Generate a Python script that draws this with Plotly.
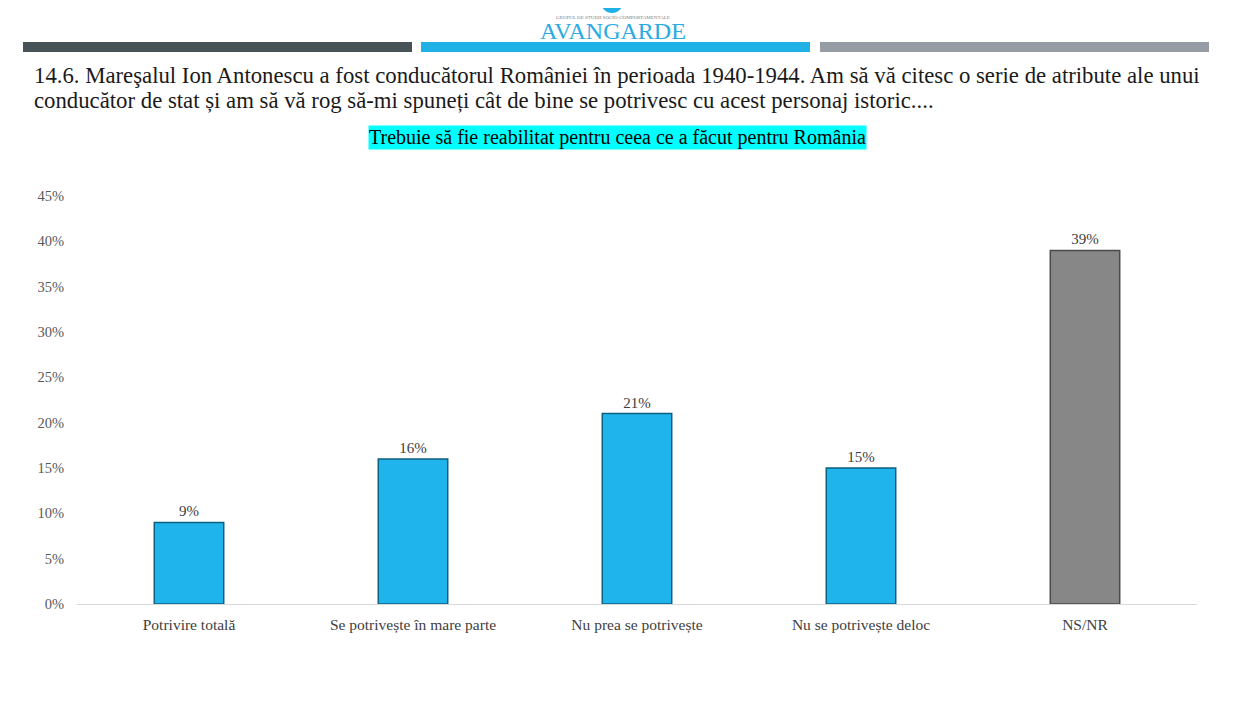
import plotly.graph_objects as go

categories = ["Potrivire totală", "Se potrivește în mare parte", "Nu prea se potrivește",
              "Nu se potrivește deloc", "NS/NR"]
values = [9, 16, 21, 15, 39]
bar_colors = ["#1fb5ec", "#1fb5ec", "#1fb5ec", "#1fb5ec", "#878787"]
line_colors = ["#0d5f80", "#0d5f80", "#0d5f80", "#0d5f80", "#4a4a4a"]
tick_vals = [0, 5, 10, 15, 20, 25, 30, 35, 40, 45]
tick_text = [f"{v}%" for v in tick_vals]
title_lines = [
    "14.6. Mareşalul Ion Antonescu a fost conducătorul României în perioada 1940-1944. "
    "Am să vă citesc o serie de atribute ale unui",
    "conducător de stat și am să vă rog să-mi spuneți cât de bine se potrivesc cu acest "
    "personaj istoric....",
]
subtitle = "Trebuie să fie reabilitat pentru ceea ce a făcut pentru România"

OFF = 8  # page body margin
W, H = 1241 - OFF, 713 - OFF
L, T = 77 - OFF, 196 - OFF
R = W - (1197 - OFF)
B = H - (604 - OFF)
pw, ph = W - L - R, H - T - B

def px(x):
    return (x - OFF - L) / pw

def py(y):
    return (H - B - (y - OFF)) / ph

SERIF = "Liberation Serif, DejaVu Serif, serif"

fig = go.Figure()
fig.add_trace(go.Bar(
    x=categories, y=values,
    marker=dict(color=bar_colors, line=dict(color=line_colors, width=1.5)),
    text=[f"{v}%" for v in values], textposition="outside",
    textfont=dict(family=SERIF, size=15, color="#404040"),
    cliponaxis=False, width=0.31,
))

shapes = []
for x0, x1, c in [(23, 412, "#475357"), (421, 810, "#1fb0e6"), (820, 1209, "#969ca3")]:
    shapes.append(dict(type="rect", xref="paper", yref="paper",
                       x0=px(x0), x1=px(x1), y0=py(52), y1=py(42),
                       fillcolor=c, line=dict(width=0), layer="above"))
# logo icon
shapes.append(dict(type="circle", xref="paper", yref="paper",
                   x0=px(601), x1=px(623), y0=py(13), y1=py(-9),
                   fillcolor="#1fb0e6", line=dict(width=0)))

annotations = [
    dict(text="AVANGARDE", x=px(613), y=py(31), xref="paper", yref="paper",
         xanchor="center", yanchor="middle", showarrow=False,
         font=dict(family=SERIF, size=24, color="#29abe2")),
    dict(text="GRUPUL DE STUDII SOCIO-COMPORTAMENTALE", x=px(613), y=py(17),
         xref="paper", yref="paper", xanchor="center", yanchor="middle", showarrow=False,
         font=dict(family=SERIF, size=5, color="#808080")),
    dict(text=subtitle,
         x=px(617), y=py(137), xref="paper", yref="paper", xanchor="center", yanchor="middle",
         showarrow=False, bgcolor="#00ffff", borderpad=0,
         font=dict(family=SERIF, size=20, color="#000000")),
]
for i, line in enumerate(title_lines):
    annotations.append(dict(text=line, x=px(32), y=py(76 + 25 * i), xref="paper", yref="paper",
                            xanchor="left", yanchor="middle", align="left", showarrow=False,
                            font=dict(family=SERIF, size=22.75, color="#1a1a1a")))

fig.update_layout(
    width=W, height=H,
    margin=dict(l=L, r=R, t=T, b=B),
    paper_bgcolor="white", plot_bgcolor="white",
    showlegend=False,
    shapes=shapes, annotations=annotations,
    xaxis=dict(showgrid=False, showline=True, linecolor="#d9d9d9", linewidth=1,
               ticks="", ticklabelstandoff=6,
               tickfont=dict(family=SERIF, size=15.5, color="#404040")),
    yaxis=dict(range=[0, 45], tickvals=tick_vals, ticktext=tick_text,
               showgrid=False, zeroline=False, showline=False, ticks="",
               ticklabelstandoff=12,
               tickfont=dict(family=SERIF, size=14.5, color="#595959")),
)

fig.write_html("out.html")
